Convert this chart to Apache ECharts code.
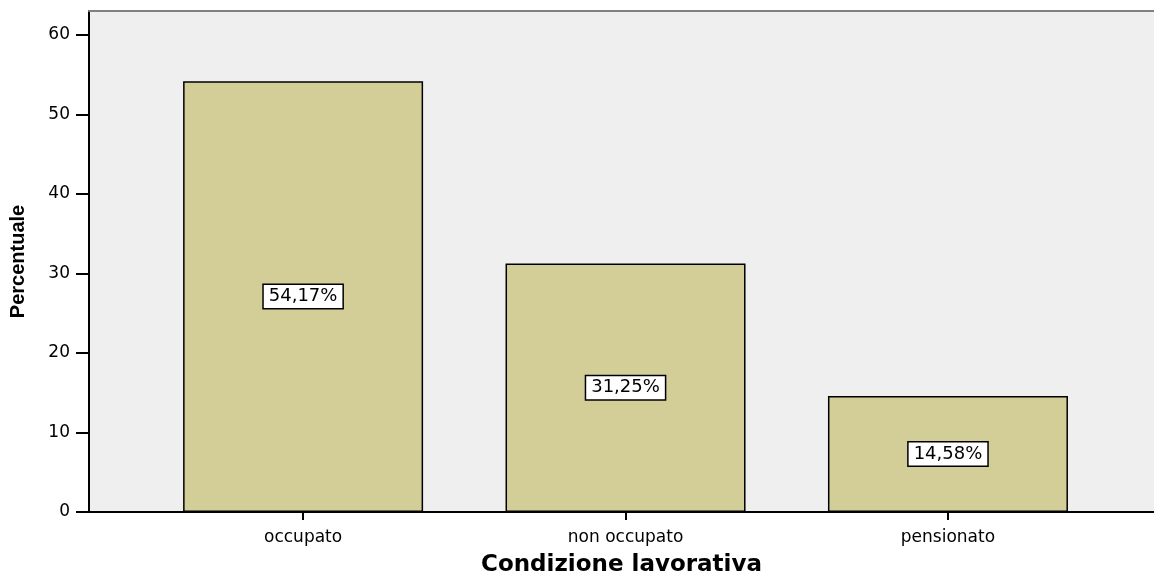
<!DOCTYPE html>
<html>
<head>
<meta charset="utf-8">
<script src="https://cdn.jsdelivr.net/npm/echarts@6/dist/echarts.min.js"></script>
<style>
html,body{margin:0;padding:0;background:#fff;}
#chart{width:1154px;height:577px;}
</style>
</head>
<body>
<div id="chart"></div>
<script>
var categories = ['occupato', 'non occupato', 'pensionato'];
var percentValues = [54.17, 31.25, 14.58];
var yTickValues = [0, 10, 20, 30, 40, 50, 60];
var xTickValues = [0, 1, 2];
var xAxisTitle = 'Condizione lavorativa';
var yAxisTitle = 'Percentuale';

var barData = percentValues.map(function (v, i) { return [i, v]; });

var chart = echarts.init(document.getElementById('chart'), null, {renderer: 'canvas'});
var xMin = -0.664, xMax = 2.639;

chart.setOption({
  animation: false,
  grid: {
    left: 89, right: 0, top: 11, bottom: 65,
    outerBoundsMode: 'none', containLabel: false,
    show: true, backgroundColor: '#efefef', borderWidth: 0
  },
  xAxis: [{
    type: 'value', min: xMin, max: xMax, position: 'bottom',
    name: xAxisTitle, nameLocation: 'middle', nameGap: 42,
    nameTextStyle: {fontFamily: 'DejaVu Sans', fontWeight: 'bold', fontSize: 23, color: '#000'},
    axisLine: {show: true, onZero: false, lineStyle: {color: '#000', width: 2}},
    axisTick: {show: true, customValues: xTickValues, length: 8, lineStyle: {color: '#000', width: 2}},
    axisLabel: {
      show: true, customValues: xTickValues, margin: 17,
      fontFamily: 'DejaVu Sans', fontSize: 17, color: '#000',
      formatter: function (v) { return categories[Math.round(v)]; }
    },
    splitLine: {show: false}
  }, {
    type: 'value', min: xMin, max: xMax, position: 'top',
    axisLine: {show: true, onZero: false, lineStyle: {color: '#808080', width: 2}},
    axisTick: {show: false}, axisLabel: {show: false}, splitLine: {show: false}
  }],
  yAxis: {
    type: 'value', min: 0, max: 63, position: 'left',
    name: yAxisTitle, nameLocation: 'middle', nameGap: 61, nameRotate: 90,
    nameTextStyle: {fontFamily: 'Liberation Sans', fontWeight: 'bold', fontSize: 20, color: '#000'},
    axisLine: {show: true, onZero: false, lineStyle: {color: '#000', width: 2}},
    axisTick: {show: true, customValues: yTickValues, length: 13, lineStyle: {color: '#000', width: 2}},
    axisLabel: {show: true, customValues: yTickValues, margin: 19, fontFamily: 'DejaVu Sans', fontSize: 17, color: '#000'},
    splitLine: {show: false}
  },
  series: [{
    type: 'bar',
    xAxisIndex: 0,
    data: barData,
    barWidth: 240,
    itemStyle: {color: '#d3ce97', borderColor: '#000', borderWidth: 1.5},
    emphasis: {disabled: true},
    label: {
      show: true, position: 'inside',
      fontFamily: 'DejaVu Sans', fontSize: 18, color: '#000',
      backgroundColor: '#fff', borderColor: '#000', borderWidth: 1.5,
      padding: [3, 5, 2, 5],
      formatter: function (p) { return p.value[1].toFixed(2).replace('.', ',') + '%'; }
    }
  }]
});
</script>
</body>
</html>
